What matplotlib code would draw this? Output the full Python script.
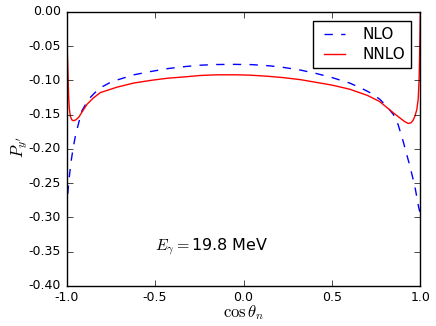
import numpy as np
import matplotlib
matplotlib.use('Agg')
import matplotlib.pyplot as plt

# NLO curve (blue dashed)
cos_nlo = [-1.0, -0.993, -0.985, -0.975, -0.963, -0.950, -0.935, -0.915, -0.895,
           -0.87, -0.84, -0.81, -0.76, -0.72, -0.62, -0.52, -0.43, -0.33, -0.245,
           -0.15, -0.05, 0.05, 0.15, 0.22, 0.32, 0.41, 0.50, 0.60, 0.67, 0.73,
           0.772, 0.81, 0.848, 0.875, 0.904, 0.925, 0.942, 0.957, 0.970, 0.980,
           0.989, 0.995, 1.0]
py_nlo = [-0.290, -0.262, -0.240, -0.218, -0.198, -0.180, -0.165, -0.145, -0.136,
          -0.126, -0.118, -0.111, -0.104, -0.100, -0.092, -0.087, -0.083, -0.080, -0.078,
          -0.077, -0.0768, -0.0772, -0.079, -0.081, -0.085, -0.090, -0.096, -0.104, -0.112, -0.120,
          -0.128, -0.138, -0.150, -0.165, -0.190, -0.210, -0.226, -0.242, -0.256, -0.270,
          -0.283, -0.290, -0.292]

# NNLO curve (red solid)
cos_nnlo = [-1.0, -0.997, -0.994, -0.989, -0.985, -0.979, -0.970, -0.962, -0.950,
            -0.932, -0.915, -0.885, -0.85, -0.81, -0.715, -0.62, -0.52, -0.43, -0.33,
            -0.245, -0.15, -0.05, 0.034, 0.13, 0.22, 0.32, 0.41, 0.50, 0.60, 0.70,
            0.77, 0.85, 0.89, 0.91, 0.932, 0.948, 0.960, 0.970, 0.980, 0.988,
            0.993, 0.996, 0.998, 1.0]
py_nnlo = [-0.027, -0.055, -0.080, -0.125, -0.142, -0.153, -0.158, -0.159, -0.158,
           -0.154, -0.147, -0.135, -0.126, -0.118, -0.110, -0.104, -0.100, -0.097, -0.095,
           -0.093, -0.092, -0.092, -0.0925, -0.094, -0.096, -0.099, -0.103, -0.107, -0.113, -0.122,
           -0.131, -0.148, -0.156, -0.160, -0.163, -0.162, -0.158, -0.152, -0.143, -0.128,
           -0.100, -0.065, -0.035, -0.002]

xticks = [-1.0, -0.5, 0.0, 0.5, 1.0]
yticks = [0.00, -0.05, -0.10, -0.15, -0.20, -0.25, -0.30, -0.35, -0.40]

plt.style.use('classic')
plt.rcParams['mathtext.fontset'] = 'cm'

fig = plt.figure(figsize=(4.36, 3.26), dpi=100, facecolor='white')
ax = fig.add_axes([0.153, 0.123, 0.811, 0.841])

ax.plot(cos_nlo, py_nlo, 'b--', lw=1.0, label='NLO')
ax.plot(cos_nnlo, py_nnlo, 'r-', lw=1.0, label='NNLO')

ax.set_xlim(-1.0, 1.0)
ax.set_ylim(-0.40, 0.0)
ax.set_xticks(xticks)
ax.set_yticks(yticks)
ax.set_xticklabels(['%.1f' % v for v in xticks])
ax.set_yticklabels(['%.2f' % v for v in yticks])
ax.tick_params(labelsize=9, direction='in', top=True, right=True)

ax.set_xlabel(r'$\cos\theta_n$', fontsize=12)
ax.set_ylabel(r"$P_{y'}$", fontsize=12)
ax.xaxis.set_label_coords(0.5, -0.063)
ax.yaxis.set_label_coords(-0.105, 0.504)

ax.text(-0.5, -0.343, r'$E_\gamma=$19.8 MeV', fontsize=11.5, va='center', ha='left')

leg = ax.legend(loc='upper right', fontsize=11, fancybox=False, handlelength=2.0,
                labelspacing=0.35, borderaxespad=0.6)
leg.get_frame().set_edgecolor('black')

fig.savefig('out.png', dpi=100, facecolor='white')
